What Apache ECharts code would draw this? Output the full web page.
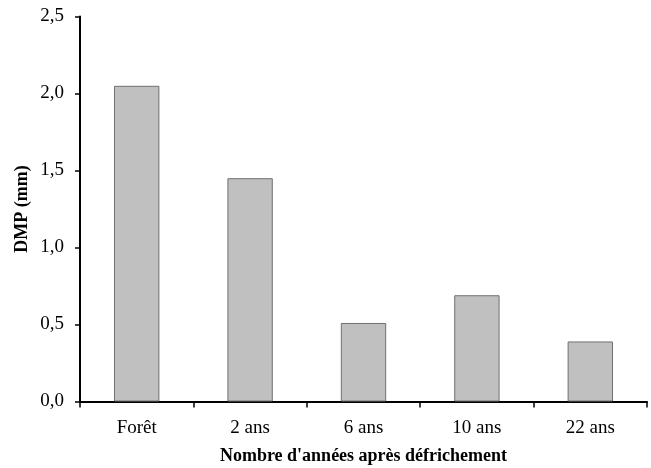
<!DOCTYPE html>
<html>
<head>
<meta charset="utf-8">
<script src="https://cdn.jsdelivr.net/npm/echarts@6/dist/echarts.min.js"></script>
<style>html,body{margin:0;padding:0;background:#fff;}#c{width:651px;height:468px;}</style>
</head>
<body>
<div id="c"></div>
<script>
const categories = ["Forêt", "2 ans", "6 ans", "10 ans", "22 ans"];
const dmpValues = [2.05, 1.45, 0.51, 0.69, 0.39];
const yTicks = [0, 0.5, 1.0, 1.5, 2.0, 2.5];

const font = "'Liberation Serif', 'Times New Roman', serif";
const chart = echarts.init(document.getElementById('c'));
chart.setOption({
  animation: false,
  grid: { left: 80, right: 4, top: 16.5, bottom: 66.5, containLabel: false, outerBoundsMode: 'none' },
  xAxis: {
    type: 'category',
    data: categories,
    name: "Nombre d'années après défrichement",
    nameLocation: 'middle',
    nameGap: 46,
    nameTextStyle: { fontFamily: font, fontSize: 18, fontWeight: 'bold', color: '#000' },
    axisLine: { lineStyle: { color: '#000', width: 2 } },
    axisTick: { show: true, alignWithLabel: false, length: 6, lineStyle: { color: '#000', width: 1.5 } },
    axisLabel: { fontFamily: font, fontSize: 19, color: '#000', margin: 17 },
    splitLine: { show: false }
  },
  yAxis: {
    type: 'value',
    min: yTicks[0],
    max: yTicks[yTicks.length - 1],
    interval: 0.5,
    name: 'DMP (mm)',
    nameLocation: 'middle',
    nameGap: 49,
    nameMoveOverlap: false,
    nameTextStyle: { fontFamily: font, fontSize: 18, fontWeight: 'bold', color: '#000' },
    axisLine: { show: true, lineStyle: { color: '#000', width: 2 } },
    axisTick: { show: true, length: 5, lineStyle: { color: '#000', width: 1.5 } },
    axisLabel: {
      fontFamily: font, fontSize: 19, color: '#000', margin: 16,
      formatter: v => v.toFixed(1).replace('.', ',')
    },
    splitLine: { show: false }
  },
  series: [{
    type: 'bar',
    data: dmpValues,
    barWidth: '40%',
    itemStyle: { color: '#c0c0c0', borderColor: '#707070', borderWidth: 1 }
  }]
});
</script>
</body>
</html>
